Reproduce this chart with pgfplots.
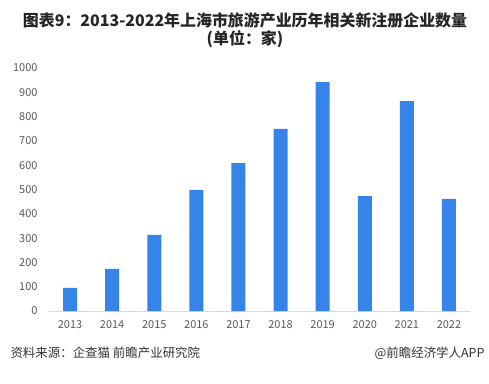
\documentclass[border=0pt]{standalone}
\usepackage{fontspec}
\setmainfont{Noto Sans CJK SC}
\usepackage{pgfplots}
\pgfplotsset{compat=1.18}
\definecolor{barblue}{HTML}{3784E8}
\definecolor{ticktxt}{HTML}{595959}
\definecolor{axline}{HTML}{D9D9D9}
\definecolor{titletxt}{HTML}{262626}
\begin{document}
\begin{tikzpicture}[x=1bp,y=1bp]
\path[use as bounding box] (0,0) rectangle (489,383);
\node[font=\fontsize{16}{17.5}\selectfont\bfseries, text=titletxt, align=center] at (245,353) {图表9：2013-2022年上海市旅游产业历年相关新注册企业数量\\(单位：家)};
\begin{axis}[
  at={(49bp,72bp)}, anchor=south west,
  scale only axis, width=421bp, height=243bp,
  xmin=-0.5, xmax=9.5, ymin=0, ymax=1000,
  ytick={0,100,...,1000},
  xtick={0,...,9},
  xticklabels={2013,2014,2015,2016,2017,2018,2019,2020,2021,2022},
  axis line style={draw=none},
  axis x line*=bottom, axis y line*=left,
  major tick length=0pt,
  tick label style={font=\fontsize{11}{12}\selectfont, text=ticktxt},
  /pgf/number format/assume math mode=true,
  /pgf/number format/1000 sep={},
  xticklabel style={yshift=-6bp},
  yticklabel style={anchor=east, xshift=-8bp},
  clip=false,
]
\draw[axline, line width=1bp] (axis cs:-0.5,0) -- (axis cs:9.5,0);
\addplot[ybar, bar width=14bp, fill=barblue, draw=none] coordinates {
(0,95) (1,173) (2,313) (3,498) (4,609) (5,749) (6,942) (7,473) (8,864) (9,461)};
\end{axis}
\node[anchor=west, font=\fontsize{12.5}{14}\selectfont, text=black!80] at (7,30) {资料来源：企查猫 前瞻产业研究院};
\node[anchor=east, font=\fontsize{12.5}{14}\selectfont, text=black!80] at (488,30) {@前瞻经济学人APP};
\end{tikzpicture}
\end{document}
